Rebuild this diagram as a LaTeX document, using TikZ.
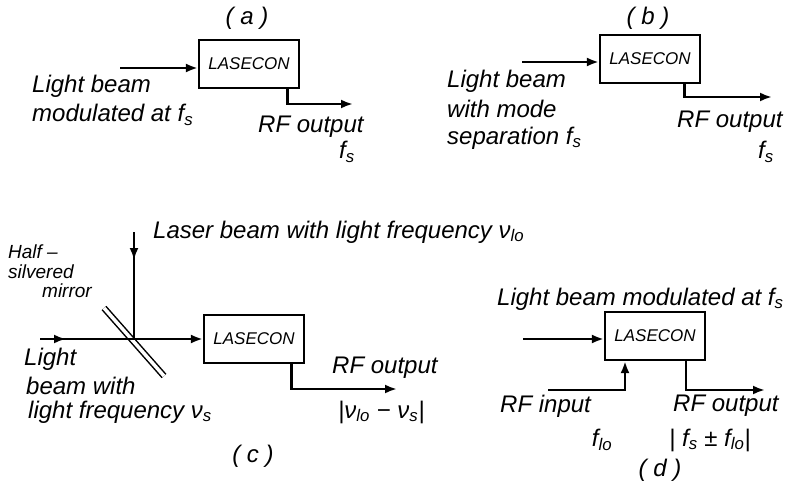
\documentclass[tikz,border=0pt]{standalone}
\usepackage{fontspec}
\setmainfont{Liberation Sans}
\usetikzlibrary{arrows.meta, positioning, calc}
\newcommand{\fsub}[2]{#1\textsubscript{#2}}
\tikzset{
  box/.style={draw, line width=2.2pt, minimum width=100pt, minimum height=48pt, inner sep=0pt,
    font=\fontsize{17}{20}\selectfont\itshape},
  arr/.style={-{Latex[length=12pt, width=9pt]}, line width=2.8pt},
  beam/.style={line width=2.8pt},
  lbl/.style={anchor=west, inner sep=0pt, font=\fontsize{24}{28}\selectfont\itshape},
  note/.style={anchor=west, inner sep=0pt, font=\fontsize{19}{21}\selectfont\itshape},
  panel/.style={inner sep=0pt, font=\fontsize{24}{28}\selectfont\itshape},
  mirror/.style={line width=1.5pt, double, double distance=3.5pt},
}

\begin{document}
\begin{tikzpicture}[x=1pt, y=-1pt]
    \useasboundingbox (0,0) rectangle (798,487);
    % (a)
    \node[panel] (capa) at (247,18) {( a )};
    \node[box] (boxa) at (249,64) {LASECON};
    \coordinate (ina) at (120,68);
    \coordinate (outa) at (353,104);
    \draw[arr] (ina) -- (ina -| boxa.west);
    \draw[arr] ([xshift=-13pt]boxa.south east) |- (outa);
    \node[lbl] (la1) at (32,86) {Light beam};
    \node[lbl] (la2) at (32,115) {modulated at \fsub{f}{s}};
    \node[lbl] (ra1) at (258,127) {RF output};
    \node[panel] (ra2) at (347,152) {\fsub{f}{s}};
    % (b)
    \node[panel] (capb) at (648,18) {( b )};
    \node[box] (boxb) at (650,59) {LASECON};
    \coordinate (inb) at (522,62);
    \coordinate (outb) at (772,97);
    \draw[arr] (inb) -- (inb -| boxb.west);
    \draw[arr] ([xshift=-17pt]boxb.south east) |- (outb);
    \node[lbl] (lb1) at (447,81) {Light beam};
    \node[lbl] (lb2) at (447,109) {with mode};
    \node[lbl] (lb3) at (447,138) {separation \fsub{f}{s}};
    \node[lbl] (rb1) at (677,122) {RF output};
    \node[panel] (rb2) at (766,152) {\fsub{f}{s}};
    % (c)
    \node[box] (boxc) at (254,339) {LASECON};
    \coordinate (inc) at (40,339);
    \coordinate (topc) at (134,232);
    \coordinate (hitc) at (134,339);
    \coordinate (outc) at (397,389);
    \draw[mirror] (104,308) -- (164,376);
    \draw[arr] (inc) -- ++(26,0);
    \draw[beam] (inc) -- (hitc);
    \draw[arr] (topc) -- ++(0,28);
    \draw[beam] (topc) -- (hitc);
    \draw[arr] (hitc) -- (hitc -| boxc.west);
    \draw[arr] ([xshift=-14pt]boxc.south east) |- (outc);
    \node[lbl] (lc0) at (153,232) {Laser beam with light frequency \fsub{ν}{lo}};
    \node[note] (mc1) at (8,252) {Half –};
    \node[note] (mc2) at (8,272) {silvered};
    \node[note] (mc3) at (42,291) {mirror};
    \node[lbl] (lc1) at (24,359) {Light};
    \node[lbl] (lc2) at (26,386) {beam with};
    \node[lbl] (lc3) at (28,412) {light frequency \fsub{ν}{s}};
    \node[lbl] (rc1) at (332,368) {RF output};
    \node[lbl] (rc2) at (338,412) {|\fsub{ν}{lo} − \fsub{ν}{s}|};
    \node[panel] (capc) at (253,456) {( c )};
    % (d)
    \node[box] (boxd) at (655,336) {LASECON};
    \coordinate (ind) at (523,339);
    \coordinate (rfd) at (548,390);
    \coordinate (outd) at (765,390);
    \draw[arr] (ind) -- (ind -| boxd.west);
    \draw[arr] (rfd) -| ([xshift=-30pt]boxd.south);
    \draw[arr] ([xshift=31pt]boxd.south) |- (outd);
    \node[lbl] (ld0) at (497,299) {Light beam modulated at \fsub{f}{s}};
    \node[lbl] (ld1) at (500,406) {RF input};
    \node[panel] (ld2) at (602,440) {\fsub{f}{lo}};
    \node[lbl] (rd1) at (673,406) {RF output};
    \node[lbl] (rd2) at (669,440) {| \fsub{f}{s} ± \fsub{f}{lo}|};
    \node[panel] (capd) at (660,470) {( d )};
  \end{tikzpicture}
\end{document}
